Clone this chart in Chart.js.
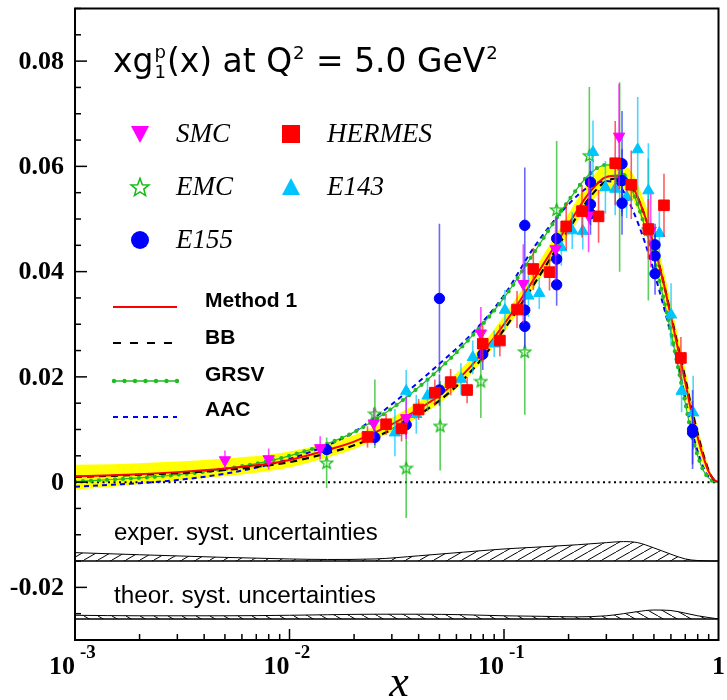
<!DOCTYPE html>
<html><head><meta charset="utf-8">
<script src="https://cdn.jsdelivr.net/npm/chart.js@4.4.1/dist/chart.umd.min.js"></script>
<style>html,body{margin:0;padding:0;background:#fff;}#wrap{width:727px;height:700px;position:relative;}</style>
</head><body><div id="wrap"><canvas id="c" width="727" height="700"></canvas></div>
<script>
// ---------------- data ----------------
const xGrid   = [0.001,0.0015,0.002,0.003,0.005,0.008,0.01,0.015,0.02,0.03,0.05,0.07,0.1,0.14,0.2,0.25,0.3,0.35,0.4,0.45,0.5,0.55,0.6,0.65,0.7,0.75,0.8,0.85,0.9,0.95,1.0];
const method1 = [0.0011,0.0013,0.0015,0.0019,0.0026,0.0035,0.0042,0.0061,0.0077,0.0110,0.0165,0.0220,0.0300,0.0390,0.0490,0.0550,0.0580,0.0582,0.0560,0.0510,0.0450,0.0385,0.0315,0.0250,0.0190,0.0130,0.0085,0.0048,0.0020,0.0005,0.0];
const bandLo  = [-0.0014,-0.0009,-0.0004,0.0003,0.0011,0.0021,0.0028,0.0047,0.0063,0.0096,0.0150,0.0205,0.0284,0.0373,0.0470,0.0528,0.0556,0.0558,0.0535,0.0485,0.0425,0.0360,0.0290,0.0225,0.0165,0.0108,0.0066,0.0033,0.0012,0.0002,0.0];
const bandHi  = [0.0033,0.0034,0.0036,0.0039,0.0045,0.0052,0.0058,0.0074,0.0089,0.0123,0.0180,0.0235,0.0316,0.0407,0.0510,0.0572,0.0604,0.0606,0.0585,0.0535,0.0475,0.0410,0.0340,0.0275,0.0215,0.0152,0.0104,0.0063,0.0028,0.0008,0.0];
const bb      = [0.0010,0.0012,0.0014,0.0017,0.0023,0.0032,0.0038,0.0055,0.0070,0.0100,0.0155,0.0210,0.0290,0.0380,0.0480,0.0540,0.0572,0.0577,0.0557,0.0510,0.0450,0.0385,0.0318,0.0255,0.0197,0.0140,0.0092,0.0052,0.0022,0.0005,0.0];
const grsv    = [0.0001,0.0005,0.0008,0.0014,0.0025,0.0040,0.0050,0.0073,0.0095,0.0140,0.0215,0.0275,0.0350,0.0440,0.0535,0.0585,0.0603,0.0592,0.0550,0.0490,0.0425,0.0355,0.0285,0.0215,0.0150,0.0090,0.0050,0.0022,0.0008,0.0001,0.0];
const aac     = [-0.0009,-0.0005,-0.0002,0.0004,0.0016,0.0033,0.0044,0.0070,0.0095,0.0148,0.0225,0.0280,0.0355,0.0450,0.0528,0.0562,0.0572,0.0560,0.0515,0.0460,0.0400,0.0340,0.0280,0.0220,0.0160,0.0100,0.0058,0.0028,0.0010,0.0002,0.0];

const systX     = [0.001,0.002,0.005,0.01,0.015,0.025,0.04,0.065,0.1,0.15,0.22,0.3,0.36,0.42,0.5,0.6,0.7,0.8,1.0];
const experTop  = [-0.0134,-0.0138,-0.0143,-0.0146,-0.0147,-0.0146,-0.0140,-0.0133,-0.0127,-0.0123,-0.0119,-0.0115,-0.0113,-0.0115,-0.0125,-0.0137,-0.0146,-0.0149,-0.0150];
const experBase = -0.015;
const theorTop  = [-0.0253,-0.0254,-0.0254,-0.0253,-0.0252,-0.0251,-0.0251,-0.0252,-0.0254,-0.0255,-0.0256,-0.0254,-0.0250,-0.0246,-0.0243,-0.0244,-0.0249,-0.0254,-0.0260];
const theorBase = -0.026;

const smcX = [0.005,0.008,0.0139,0.0247,0.035,0.078,0.123,0.174,0.248,0.344,0.483];
const smcY = [0.0042,0.0044,0.0065,0.0112,0.0122,0.0283,0.0377,0.0443,0.0507,0.0657,0.0478];
const smcE = [0.0018,0.0020,0.0022,0.0030,0.0040,0.0050,0.0075,0.0060,0.0070,0.0100,0.0070];

const emcX = [0.0149,0.025,0.035,0.0504,0.078,0.125,0.176,0.25,0.346,0.471];
const emcY = [0.0037,0.0130,0.0027,0.0107,0.0192,0.0248,0.0518,0.0621,0.0580,0.0480];
const emcE = [0.0048,0.0065,0.0095,0.0085,0.0070,0.0120,0.0130,0.0130,0.0180,0.0135];

const hermesX = [0.0231,0.0282,0.0333,0.040,0.0476,0.0564,0.0673,0.0796,0.0957,0.115,0.137,0.163,0.195,0.231,0.276,0.33,0.392,0.471,0.557,0.668];
const hermesY = [0.0086,0.0110,0.0102,0.0138,0.0170,0.0190,0.0175,0.0263,0.0269,0.0328,0.0405,0.0399,0.0486,0.0515,0.0505,0.0606,0.0565,0.0481,0.0526,0.0236];
const hermesE = [0.0020,0.0020,0.0025,0.0020,0.0025,0.0025,0.0025,0.0035,0.0030,0.0035,0.0040,0.0035,0.0045,0.0050,0.0050,0.0080,0.0065,0.0057,0.0060,0.0040];

const e143X = [0.031,0.035,0.039,0.044,0.063,0.0715,0.09,0.101,0.13,0.146,0.185,0.208,0.233,0.26,0.297,0.33,0.373,0.42,0.471,0.53,0.601,0.673,0.762];
const e143Y = [0.0094,0.0173,0.0129,0.0164,0.0196,0.0237,0.0263,0.0327,0.0354,0.0359,0.0446,0.0478,0.0477,0.0627,0.0560,0.0557,0.0542,0.0632,0.0554,0.0473,0.0318,0.0173,0.0132];
const e143E = [0.0045,0.0040,0.0037,0.0030,0.0030,0.0032,0.0025,0.0038,0.0040,0.0030,0.0035,0.0035,0.0035,0.0060,0.0050,0.0050,0.0040,0.0100,0.0090,0.0060,0.0060,0.0040,0.0070];

const e155X = [0.0149,0.025,0.035,0.050,0.050,0.0796,0.125,0.125,0.125,0.176,0.176,0.176,0.253,0.253,0.253,0.355,0.355,0.355,0.506,0.506,0.506,0.757,0.757];
const e155Y = [0.0062,0.0085,0.0109,0.0175,0.0349,0.0243,0.0488,0.0327,0.0296,0.0463,0.0424,0.0375,0.0570,0.0528,0.0510,0.0605,0.0573,0.0530,0.0451,0.0430,0.0396,0.0100,0.0094];
const e155E = [0.0010,0.0015,0.0020,0.0030,0.0142,0.0030,0.0110,0.0040,0.0040,0.0040,0.0040,0.0040,0.0040,0.0040,0.0040,0.0100,0.0060,0.0060,0.0040,0.0040,0.0040,0.0075,0.0060];

const yMajorTicks = [-0.02,0,0.02,0.04,0.06,0.08];
const yTickLabels = ['-0.02','0','0.02','0.04','0.06','0.08'];
const xMajorTicks = [0.001,0.01,0.1,1];
const xTickBase   = ['10','10','10','1'];
const xTickExp    = ['-3','-2','-1',''];

// ---------------- helpers ----------------
const pts = (xs, ys) => xs.map((x,i)=>({x:x, y:ys[i]}));
const constPts = (xs, v) => xs.map(x=>({x:x, y:v}));

function hatch(dir){
  const c=document.createElement('canvas'); c.width=14; c.height=8;
  const g=c.getContext('2d'); g.strokeStyle='#000'; g.lineWidth=1;
  const lines = dir>0 ? [[-14,8,0,0],[0,8,14,0],[14,8,28,0]] : [[-14,0,0,8],[0,0,14,8],[14,0,28,8]];
  lines.forEach(l=>{g.beginPath();g.moveTo(l[0],l[1]);g.lineTo(l[2],l[3]);g.stroke();});
  return g.createPattern(c,'repeat');
}
function starCanvas(size, color, lw){
  const c=document.createElement('canvas'); c.width=c.height=size;
  const g=c.getContext('2d'); const cx=size/2, cy=size/2+size*0.04, R=size/2-lw, r=R*0.42;
  g.beginPath();
  for(let k=0;k<10;k++){const a=-Math.PI/2+k*Math.PI/5; const rr=k%2?r:R; g.lineTo(cx+rr*Math.cos(a), cy+rr*Math.sin(a));}
  g.closePath(); g.strokeStyle=color; g.lineWidth=lw; g.stroke();
  return c;
}
const expPattern = hatch(1), theoPattern = hatch(-1);
const starSmall = starCanvas(15,'#11bb11',1.3);
const starBig = starCanvas(22,'#11bb11',1.5);

const C = {smc:'#ff00ff', hermes:'#ff0000', emc:'#22bb22', e143:'#00c4ff', e155:'#0000ff'};

// ---------------- plugins ----------------
const errPlugin = {
  id:'errbars',
  beforeDatasetDraw(chart, args){
    const ds = chart.data.datasets[args.index];
    if(!ds.errs) return;
    const ctx=chart.ctx, xs=chart.scales.x, ys=chart.scales.y, a=chart.chartArea;
    ctx.save(); ctx.beginPath(); ctx.rect(a.left,a.top,a.right-a.left,a.bottom-a.top); ctx.clip();
    ctx.strokeStyle=ds.errColor; ctx.lineWidth=1.6;
    ds.data.forEach((p,i)=>{
      const px=xs.getPixelForValue(p.x);
      ctx.beginPath();
      ctx.moveTo(px, ys.getPixelForValue(p.y-ds.errs[i]));
      ctx.lineTo(px, ys.getPixelForValue(p.y+ds.errs[i]));
      ctx.stroke();
    });
    ctx.restore();
  }
};

function fitSize(ctx, text, fontTpl, target){
  ctx.font = fontTpl.replace('SIZE', 40);
  return 40*target/ctx.measureText(text).width;
}

const decorPlugin = {
  id:'decor',
  afterDraw(chart){
    const ctx=chart.ctx, a=chart.chartArea, xs=chart.scales.x, ys=chart.scales.y;
    ctx.save();
    // frame
    ctx.strokeStyle='#000'; ctx.lineWidth=2;
    ctx.strokeRect(a.left, a.top, a.right-a.left, a.bottom-a.top);
    // y ticks
    ctx.lineWidth=1.5;
    for(let v=-0.03; v<=0.0901; v+=0.005){
      const vv=Math.round(v*1000)/1000;
      const py=ys.getPixelForValue(vv);
      const major = Math.abs(Math.round(vv/0.02)*0.02 - vv) < 1e-9;
      ctx.beginPath(); ctx.moveTo(a.left,py); ctx.lineTo(a.left+(major?12:6),py); ctx.stroke();
    }
    // x ticks
    for(let d=-3; d<0; d++){
      for(let m=1;m<10;m++){
        const v=m*Math.pow(10,d); const px=xs.getPixelForValue(v);
        ctx.beginPath(); ctx.moveTo(px,a.bottom); ctx.lineTo(px,a.bottom-(m===1?11:6)); ctx.stroke();
      }
    }
    // y tick labels
    ctx.fillStyle='#000'; ctx.font='bold 26px "Liberation Serif"'; ctx.textAlign='right'; ctx.textBaseline='middle';
    yMajorTicks.forEach((v,i)=>{ ctx.fillText(yTickLabels[i], a.left-11, ys.getPixelForValue(v)+1); });
    // x tick labels
    xMajorTicks.forEach((v,i)=>{
      const px=xs.getPixelForValue(v);
      ctx.font='bold 26px "Liberation Serif"';
      if(xTickExp[i]){
        ctx.textAlign='right'; ctx.fillText(xTickBase[i], px, 667);
        ctx.font='bold 19px "Liberation Serif"'; ctx.textAlign='left'; ctx.fillText(xTickExp[i], px+5, 653);
      } else { ctx.textAlign='center'; ctx.fillText(xTickBase[i], px, 667); }
    });
    // x axis title
    ctx.font='italic 44px "Liberation Serif"'; ctx.textAlign='center'; ctx.textBaseline='alphabetic';
    ctx.fillText('x', 399, 696);

    // title
    const fam='"DejaVu Sans"';
    const segs=[['xg','n'],['1','sub'],['p','sup'],['(x) at Q','n'],['2','sup'],[' = 5.0 GeV','n'],['2','sup']];
    const measure=(s)=>{ let w=0; segs.forEach((sg,k)=>{ ctx.font=(sg[1]==='n'?s:s*0.55)+'px '+fam; const mw=ctx.measureText(sg[0]).width; if(k!==1) w+=mw+(sg[1]==='n'?0:2); }); return w; };
    const base=40; const s=base*385/measure(base);
    let x=113; const by=72; ctx.textAlign='left'; ctx.textBaseline='alphabetic';
    let subW=0;
    segs.forEach((sg,k)=>{
      if(sg[1]==='n'){ ctx.font=s+'px '+fam; ctx.fillText(sg[0],x,by); x+=ctx.measureText(sg[0]).width; }
      else if(sg[1]==='sub'){ ctx.font=(s*0.55)+'px '+fam; ctx.fillText(sg[0],x+1,by+6); subW=ctx.measureText(sg[0]).width+2; }
      else { ctx.font=(s*0.55)+'px '+fam; if(k===2){ ctx.fillText(sg[0],x+1,by-14); x+=Math.max(subW, ctx.measureText(sg[0]).width+2);} else { ctx.fillText(sg[0],x+1,by-13); x+=ctx.measureText(sg[0]).width+2; } }
    });

    // experiment legend
    const ser='"Liberation Serif"';
    ctx.textBaseline='middle'; ctx.textAlign='left';
    const legPts=[['SMC',140,134,'smc'],['HERMES',291,134,'hermes'],['EMC',140,187,'emc'],['E143',291,187,'e143'],['E155',140,240,'e155']];
    legPts.forEach(l=>{
      const [t,mx,my,k]=l;
      ctx.fillStyle=C[k];
      if(k==='smc'){ ctx.beginPath(); ctx.moveTo(mx-9,my-8); ctx.lineTo(mx+9,my-8); ctx.lineTo(mx,my+9); ctx.closePath(); ctx.fill(); }
      if(k==='e143'){ ctx.beginPath(); ctx.moveTo(mx-9,my+8); ctx.lineTo(mx+9,my+8); ctx.lineTo(mx,my-9); ctx.closePath(); ctx.fill(); }
      if(k==='hermes'){ ctx.fillRect(mx-9,my-9,18,18); }
      if(k==='e155'){ ctx.beginPath(); ctx.arc(mx,my,9,0,2*Math.PI); ctx.fill(); }
      if(k==='emc'){ ctx.drawImage(starBig, mx-11, my-11); }
      ctx.fillStyle='#000'; ctx.font='italic 27px '+ser; ctx.fillText(t, mx+36, my+1);
    });
    // curves legend
    const sans='"Liberation Sans"';
    const lg=[['Method 1',307,301],['BB',343,338],['GRSV',381,375],['AAC',417,410]];
    lg.forEach((l,i)=>{
      const [t,ly,ty]=l;
      ctx.save();
      if(i===0){ ctx.strokeStyle='#ff0000'; ctx.lineWidth=2; ctx.setLineDash([]); }
      if(i===1){ ctx.strokeStyle='#000'; ctx.lineWidth=2; ctx.setLineDash([8,9]); }
      if(i===2){ ctx.strokeStyle='#22bb22'; ctx.lineWidth=1.3; ctx.setLineDash([]); }
      if(i===3){ ctx.strokeStyle='#0000ff'; ctx.lineWidth=2; ctx.setLineDash([5,5]); }
      ctx.beginPath(); ctx.moveTo(113,ly); ctx.lineTo(177,ly); ctx.stroke();
      if(i===2){ ctx.fillStyle='#22bb22'; for(let xx=114; xx<=177; xx+=10.5){ ctx.beginPath(); ctx.arc(xx,ly,2.2,0,2*Math.PI); ctx.fill(); } }
      ctx.restore();
      ctx.fillStyle='#000'; ctx.font='bold 21px '+sans; ctx.textAlign='left'; ctx.textBaseline='middle';
      ctx.fillText(t, 205, ty);
    });
    // uncertainty labels
    const t1='exper. syst. uncertainties', t2='theor. syst. uncertainties';
    let fs=fitSize(ctx,t1,'SIZEpx '+sans,264);
    ctx.font=fs+'px '+sans; ctx.fillText(t1, 114, 533);
    fs=fitSize(ctx,t2,'SIZEpx '+sans,262);
    ctx.font=fs+'px '+sans; ctx.fillText(t2, 114, 596);
    ctx.restore();
  }
};

// ---------------- chart ----------------
const lineBase = {type:'line', pointRadius:0, tension:0.35, cubicInterpolationMode:'monotone', fill:false};
const scatterBase = (label, xs, ys, es, col, errCol, extra) => Object.assign({
  type:'scatter', label:label, data:pts(xs,ys), errs:es, errColor:errCol,
  backgroundColor:col, borderColor:col, borderWidth:1, showLine:false
}, extra);

new Chart(document.getElementById('c'), {
  data:{
    datasets:[
      Object.assign({}, lineBase, {label:'exper', data:pts(systX,experTop), borderColor:'#000', borderWidth:1, fill:'+1', backgroundColor:expPattern, order:100}),
      Object.assign({}, lineBase, {label:'experBase', data:constPts(systX,experBase), borderColor:'#000', borderWidth:1.5, order:101}),
      Object.assign({}, lineBase, {label:'theor', data:pts(systX,theorTop), borderColor:'#000', borderWidth:1, fill:'+1', backgroundColor:theoPattern, order:102}),
      Object.assign({}, lineBase, {label:'theorBase', data:constPts(systX,theorBase), borderColor:'#000', borderWidth:1.5, order:103}),
      Object.assign({}, lineBase, {label:'bandHi', data:pts(xGrid,bandHi), borderWidth:0, borderColor:'rgba(0,0,0,0)', fill:'+1', backgroundColor:'#ffff00', order:90}),
      Object.assign({}, lineBase, {label:'bandLo', data:pts(xGrid,bandLo), borderWidth:0, borderColor:'rgba(0,0,0,0)', order:91}),
      Object.assign({}, lineBase, {label:'zero', data:constPts([0.001,1],0), borderColor:'#000', borderWidth:2, borderDash:[2,3.5], order:89}),
      Object.assign({}, lineBase, {label:'AAC', data:pts(xGrid,aac), borderColor:'#0000ff', borderWidth:2, borderDash:[5,4], order:60}),
      Object.assign({}, lineBase, {label:'GRSV', data:pts(xGrid,grsv), borderColor:'#22bb22', borderWidth:1.2, order:59}),
      Object.assign({}, lineBase, {label:'GRSVdots', data:pts(xGrid,grsv), borderColor:'#22bb22', borderWidth:4.2, borderDash:[0,8], borderCapStyle:'round', order:58}),
      Object.assign({}, lineBase, {label:'BB', data:pts(xGrid,bb), borderColor:'#000', borderWidth:2.2, borderDash:[7,5], order:57}),
      Object.assign({}, lineBase, {label:'Method 1', data:pts(xGrid,method1), borderColor:'#ff0000', borderWidth:2, order:56}),
      scatterBase('EMC', emcX, emcY, emcE, C.emc, 'rgba(40,190,40,0.75)', {pointStyle:starSmall, pointRadius:7, order:10}),
      scatterBase('E143', e143X, e143Y, e143E, C.e143, 'rgba(0,196,255,0.7)', {pointStyle:'triangle', pointRadius:6.5, order:9}),
      scatterBase('E155', e155X, e155Y, e155E, C.e155, 'rgba(40,40,255,0.7)', {pointStyle:'circle', pointRadius:5.2, order:8}),
      scatterBase('SMC', smcX, smcY, smcE, C.smc, 'rgba(255,0,255,0.7)', {pointStyle:'triangle', pointRotation:180, pointRadius:6.5, order:7}),
      scatterBase('HERMES', hermesX, hermesY, hermesE, C.hermes, 'rgba(255,40,40,0.75)', {pointStyle:'rect', pointRadius:7.5, order:6})
    ]
  },
  options:{
    responsive:false, animation:false, devicePixelRatio:1,
    layout:{padding:{left:75, right:5, top:8, bottom:60}},
    plugins:{legend:{display:false}, tooltip:{enabled:false}, title:{display:false}},
    scales:{
      x:{type:'logarithmic', min:0.001, max:1, display:false},
      y:{type:'linear', min:-0.03, max:0.09, display:false}
    }
  },
  plugins:[errPlugin, decorPlugin]
});
</script>
</body></html>
